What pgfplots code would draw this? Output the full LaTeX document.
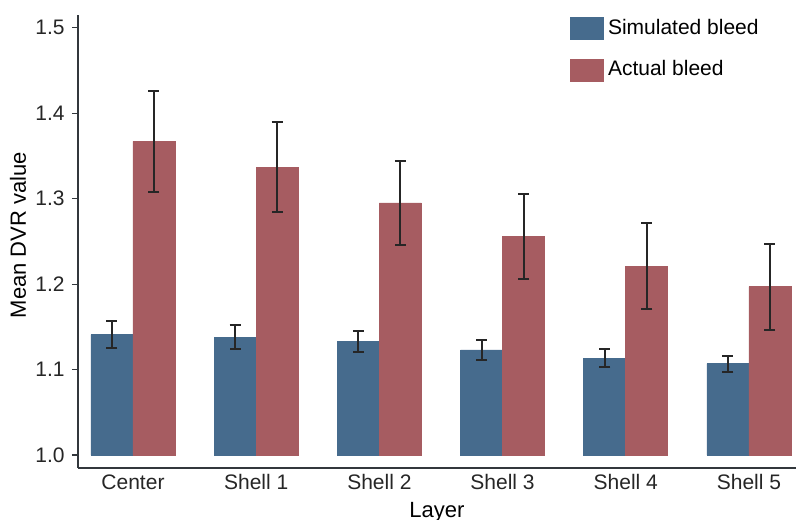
\documentclass[border=0pt]{standalone}
\usepackage{pgfplots}
\pgfplotsset{compat=1.18}
\usepackage{fontspec}
\setmainfont{Liberation Sans}
\definecolor{simblue}{RGB}{70,107,141}
\definecolor{actred}{RGB}{166,92,97}
\definecolor{axgray}{RGB}{50,55,60}
\begin{document}
\fontsize{10.5}{12.5}\selectfont
\begin{tikzpicture}
\begin{axis}[
  scale only axis,
  width=359pt, height=220pt,
  xmin=-0.4464, xmax=5.382,
  ymin=1.0, ymax=1.515,
  ybar=0pt, bar width=21pt,
  axis lines=left,
  axis line style={-, axgray, line width=0.8pt},
  x axis line style={yshift=-6.5pt},
  y axis line style={shorten <=-6.5pt},
  xtick={0,1,2,3,4,5},
  xticklabels={Center,Shell 1,Shell 2,Shell 3,Shell 4,Shell 5},
  x tick style={draw=none},
  xticklabel style={yshift=-3pt},
  ytick={1.0,1.1,1.2,1.3,1.4,1.5},
  yticklabel style={/pgf/number format/.cd, fixed, fixed zerofill, precision=1},
  /pgf/number format/assume math mode=true,
  y tick style={axgray, line width=0.6pt},
  tick align=outside,
  major tick length=3pt,
  tick label style={font=\fontsize{10.5}{12.5}\selectfont, text=black!85},
  ylabel={Mean DVR value},
  ylabel style={font=\fontsize{11}{13}\selectfont, yshift=-2.5pt},
  xlabel={Layer},
  xlabel style={font=\fontsize{11}{13}\selectfont, at={(rel axis cs:0.5,0)}, anchor=center, yshift=-28.5pt},
  legend style={at={(rel axis cs:0.685,1.0)}, anchor=north west, draw=none, fill=none,
    font=\fontsize{10.5}{12.5}\selectfont, row sep=7.5pt, inner sep=0pt,
    /tikz/every even column/.append style={column sep=3pt}},
  legend cell align=left,
  legend image code/.code={\fill[#1] (0pt,-5.5pt) rectangle (16.5pt,5.5pt);},
  error bars/error bar style={line width=1pt, black!85},
  error bars/error mark options={rotate=90, mark size=2.75pt, line width=1pt, black!85},
]
\addplot[fill=simblue, draw=simblue, error bars/.cd, y dir=both, y explicit]
  coordinates {
  (0,1.141) +- (0,0.0157)
  (1,1.138) +- (0,0.0140)
  (2,1.133) +- (0,0.0127)
  (3,1.123) +- (0,0.0115)
  (4,1.113) +- (0,0.0105)
  (5,1.107) +- (0,0.0094)
  };
\addplot[fill=actred, draw=actred, error bars/.cd, y dir=both, y explicit]
  coordinates {
  (0,1.367) +- (0,0.0590)
  (1,1.337) +- (0,0.0525)
  (2,1.295) +- (0,0.0496)
  (3,1.256) +- (0,0.0496)
  (4,1.221) +- (0,0.0500)
  (5,1.197) +- (0,0.0503)
  };
\legend{Simulated bleed, Actual bleed}
\end{axis}
\pgfresetboundingbox
\path ([shift={(-39pt,-32pt)}]current axis.south west) rectangle ([shift={(0pt,7.5pt)}]current axis.north east);
\end{tikzpicture}
\end{document}
